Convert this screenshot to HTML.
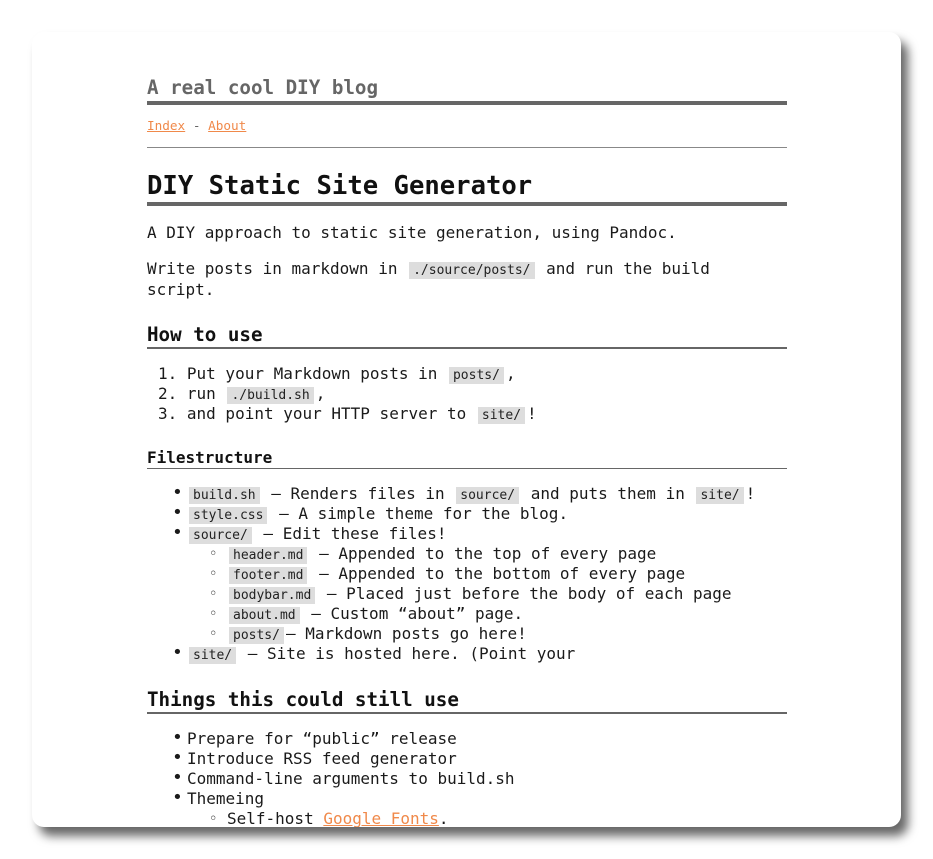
<!DOCTYPE html>
<html><head><meta charset="utf-8"><style>
html,body{margin:0;padding:0;background:#fff;width:933px;height:859px;overflow:hidden}
#win{position:absolute;left:32px;top:32px;width:869px;height:795px;background:#fff;border-radius:12px;box-shadow:7px 9px 10px rgba(0,0,0,.6);overflow:hidden}
.l{position:absolute;left:115px;white-space:pre;font-family:"DejaVu Sans Mono","Liberation Mono",monospace;font-size:16px;line-height:20px;color:#1a1a1a}
code{font-family:"DejaVu Sans Mono",monospace;font-size:13px;background:#ddd;padding:1px 4px;margin:0 2px;color:#222}
a{color:#f0894a;text-decoration:underline}
.r{position:absolute;left:115px;width:640px;background:#666}
.b{font-weight:bold}
.bul{position:absolute;left:-15px;top:-1px;font-size:18px}
.cir{position:absolute;left:-18px;top:0;font-size:14px}
</style></head><body>
<div id="win">
<div class="l b" style="top:44px;font-size:19.2px;line-height:24px;color:#666">A real cool DIY blog</div>
<div class="r" style="top:69px;height:4px"></div>
<div class="l" style="top:84px;font-size:12.7px;color:#666"><a>Index</a> - <a>About</a></div>
<div class="r" style="top:115px;height:1px;background:#888"></div>
<div class="l b" style="top:138px;font-size:25.6px;line-height:32px;color:#111">DIY Static Site Generator</div>
<div class="r" style="top:170px;height:4px"></div>
<div class="l" style="top:191px">A DIY approach to static site generation, using Pandoc.</div>
<div class="l" style="top:227px">Write posts in markdown in <code>./source/posts/</code> and run the build</div>
<div class="l" style="top:248px">script.</div>
<div class="l b" style="top:291px;font-size:19.2px;line-height:24px;color:#111">How to use</div>
<div class="r" style="top:315px;height:2px"></div>
<div class="l" style="top:332px;left:126px">1. Put your Markdown posts in <code>posts/</code>,</div>
<div class="l" style="top:352px;left:126px">2. run <code>./build.sh</code>,</div>
<div class="l" style="top:372px;left:126px">3. and point your HTTP server to <code>site/</code>!</div>
<div class="l b" style="top:416px;color:#111">Filestructure</div>
<div class="r" style="top:436px;height:1px"></div>
<div class="l" style="top:452px;left:155px"><span class="bul">•</span><code>build.sh</code> — Renders files in <code>source/</code> and puts them in <code>site/</code>!</div>
<div class="l" style="top:472px;left:155px"><span class="bul">•</span><code>style.css</code> — A simple theme for the blog.</div>
<div class="l" style="top:492px;left:155px"><span class="bul">•</span><code>source/</code> — Edit these files!</div>
<div class="l" style="top:512px;left:195px"><span class="cir">◦</span><code>header.md</code> — Appended to the top of every page</div>
<div class="l" style="top:532px;left:195px"><span class="cir">◦</span><code>footer.md</code> — Appended to the bottom of every page</div>
<div class="l" style="top:552px;left:195px"><span class="cir">◦</span><code>bodybar.md</code> — Placed just before the body of each page</div>
<div class="l" style="top:572px;left:195px"><span class="cir">◦</span><code>about.md</code> — Custom “about” page.</div>
<div class="l" style="top:592px;left:195px"><span class="cir">◦</span><code>posts/</code>— Markdown posts go here!</div>
<div class="l" style="top:612px;left:155px"><span class="bul">•</span><code>site/</code> — Site is hosted here. (Point your</div>
<div class="l b" style="top:656px;font-size:19.2px;line-height:24px;color:#111">Things this could still use</div>
<div class="r" style="top:680px;height:2px"></div>
<div class="l" style="top:697px;left:155px"><span class="bul">•</span>Prepare for “public” release</div>
<div class="l" style="top:717px;left:155px"><span class="bul">•</span>Introduce RSS feed generator</div>
<div class="l" style="top:737px;left:155px"><span class="bul">•</span>Command-line arguments to build.sh</div>
<div class="l" style="top:757px;left:155px"><span class="bul">•</span>Themeing</div>
<div class="l" style="top:777px;left:195px"><span class="cir">◦</span>Self-host <a>Google Fonts</a>.</div>
</div>
</body></html>
